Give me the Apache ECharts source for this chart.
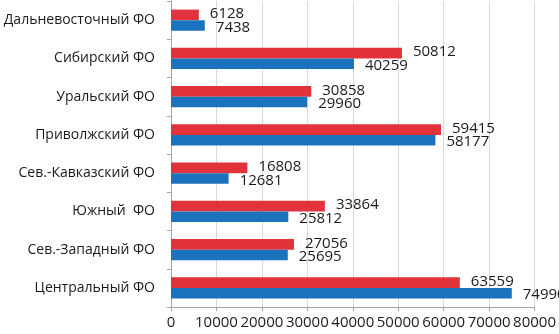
<!DOCTYPE html>
<html>
<head>
<meta charset="utf-8">
<script src="https://cdn.jsdelivr.net/npm/echarts@6/dist/echarts.min.js"></script>
<style>
    html, body { margin: 0; padding: 0; background: #fff; }
    #chart { width: 559px; height: 334px; }
</style>
</head>
<body>
<div id="chart"></div>
<script>
    // округа снизу вверх
    const districts = ['Центральный ФО', 'Сев.-Западный ФО', 'Южный  ФО', 'Сев.-Кавказский ФО',
        'Приволжский ФО', 'Уральский ФО', 'Сибирский ФО', 'Дальневосточный ФО']
    const redValues = [63559, 27056, 33864, 16808, 59415, 30858, 50812, 6128]
    const blueValues = [74990, 25695, 25812, 12681, 58177, 29960, 40259, 7438]
    const xTicks = [0, 10000, 20000, 30000, 40000, 50000, 60000, 70000, 80000]

    const fontFamily = 'Open Sans'
    const labelStyle = {
        show: true,
        position: 'right',
        distance: 11,
        color: '#1a1a1a',
        fontSize: 15,
        fontFamily: fontFamily
    }

    const chart = echarts.init(document.getElementById('chart'))
    const option = {
        animation: false,
        grid: {
            left: 171,
            right: 21,
            top: 1,
            bottom: 27,
            containLabel: false
        },
        xAxis: {
            type: 'value',
            min: xTicks[0],
            max: xTicks[xTicks.length - 1],
            interval: 10000,
            axisLine: { show: true, lineStyle: { color: '#a6a6a6', width: 1 } },
            axisTick: { show: true, length: 4, lineStyle: { color: '#a6a6a6' } },
            axisLabel: {
                color: '#1a1a1a',
                fontSize: 15,
                fontFamily: fontFamily,
                margin: 8,
                formatter: v => String(v)
            },
            splitLine: { show: true, lineStyle: { color: '#d9d9d9', width: 1 } }
        },
        yAxis: {
            type: 'category',
            data: districts,
            axisLine: { show: true, lineStyle: { color: '#a6a6a6', width: 1 } },
            axisTick: { show: true, length: 4, lineStyle: { color: '#a6a6a6' } },
            axisLabel: {
                color: '#1a1a1a',
                fontSize: 14,
                fontFamily: fontFamily,
                margin: 16
            },
            splitLine: { show: false }
        },
        series: [
            {
                type: 'bar',
                data: redValues,
                itemStyle: { color: '#e2323b' },
                barGap: '0%',
                barCategoryGap: '45%',
                label: Object.assign({}, labelStyle, { offset: [0, -1] })
            },
            {
                type: 'bar',
                data: blueValues,
                itemStyle: { color: '#1b73bd' },
                barGap: '0%',
                barCategoryGap: '45%',
                label: Object.assign({}, labelStyle, { offset: [0, 2] })
            }
        ]
    }
    chart.setOption(option)
</script>
</body>
</html>
